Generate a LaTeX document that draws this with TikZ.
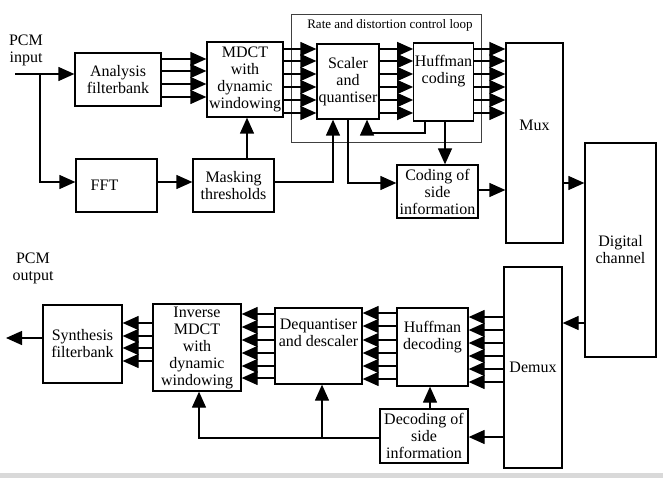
\documentclass[tikz,border=0pt]{standalone}
\usepackage{fontspec}
\setmainfont{Liberation Serif}
\usetikzlibrary{arrows.meta}

\tikzset{
    blk/.style 2 args={draw, line width=1.3pt, inner sep=1pt, align=center,
        minimum width=#1, minimum height=#2},
    arr/.style={line width=1.3pt, -{Triangle[length=16pt,width=14pt]}},
    ln/.style={line width=1.3pt},
}

\begin{document}
\begin{tikzpicture}[x=1pt,y=-1pt,font=\fontsize{16}{17}\selectfont]
    \useasboundingbox (0,0) rectangle (663,478);
    \fill[black!15] (0,473) rectangle (663,478);

    % encoder
    \node[align=center, inner sep=0pt] at (26,50) (pcmin) {PCM\\input};
    \node[blk={86pt}{53pt}] at (118,79.5) (ana) {Analysis\\filterbank};
    \node[blk={81pt}{53pt}] at (116.5,185.5) (fft) {FFT\hspace*{24pt}};
    \node[blk={81pt}{53pt}] at (233.5,185.5) (mask) {Masking\\thresholds};
    \node[blk={76pt}{75pt}] at (245,79.5) (mdct) {MDCT\\with\\dynamic\\windowing};
    \node[blk={62pt}{75pt}] at (348,81.5) (sq) {Scaler\\and\\quantiser};
    \node[blk={59pt}{78pt}] at (443.5,82) (huff) {Huffman\\coding\\[8pt]};
    \node[blk={81pt}{53pt}] at (437.5,191.5) (csi) {Coding of\\side\\information};
    \node[blk={57pt}{200pt}, label={[yshift=18pt]center:Mux}] at (534.5,143) (mux) {};
    \node[blk={71pt}{214pt}] at (620.5,250) (dig) {Digital\\channel};

    % control loop
    \draw[line width=0.6pt,black!75] (291,14) rectangle (481,142);
    \node at (390,25) (looplbl) {\fontsize{13}{15}\selectfont Rate and distortion control loop};

    \coordinate (inp) at (15,74);
    \coordinate (br) at (40,74);
    \draw[arr] (inp) -- (ana.west |- inp);
    \draw[arr] (br) |- (fft.west |- 0,182);
    \draw[arr] (fft.east |- 0,182) -- (mask.west |- 0,182);
    \draw[arr] (mask.north -| 247,0) -- (mdct.south -| 247,0);
    \draw[arr] (mask.east |- 0,182) -| (sq.south -| 333,0);
    \foreach \y in {59,71,84,97}
        \draw[arr] (ana.east |- 0,\y) -- (mdct.west |- 0,\y);
    \foreach \y in {49,61,74,87,100,113} {
        \draw[arr] (mdct.east |- 0,\y) -- (sq.west |- 0,\y);
        \draw[arr] (sq.east |- 0,\y) -- (huff.west |- 0,\y);
        \draw[arr] (huff.east |- 0,\y) -- (mux.west |- 0,\y);
    }
    \coordinate (fb) at (425,133);
    \draw[arr] (huff.south -| fb) -- (fb) -| (sq.south -| 367,0);
    \draw[arr] (huff.south -| 445,0) -- (csi.north -| 445,0);
    \draw[arr] (sq.south -| 348,0) |- (csi.west |- 0,183);
    \draw[arr] (csi.east |- 0,190) -- (mux.west |- 0,190);
    \draw[arr] (mux.east |- 0,183) -- (dig.west |- 0,183);

    % decoder
    \node[align=center, inner sep=0pt] at (33,268) (pcmout) {PCM\\output};
    \node[blk={58pt}{201pt}] at (533,367.5) (demux) {Demux};
    \node[blk={71pt}{78pt}] at (432.5,347) (hdec) {Huffman\\decoding\\[6pt]};
    \node[blk={87pt}{76pt}] at (318.5,346) (deq) {Dequantiser\\and descaler\\[10pt]};
    \node[blk={88pt}{54pt}] at (424,436) (dsi) {Decoding of\\side\\information};
    \node[blk={88pt}{87pt}] at (197,347.5) (imdct) {Inverse\\MDCT\\with\\dynamic\\windowing};
    \node[blk={79pt}{78pt}] at (82.5,344) (syn) {Synthesis\\filterbank};

    \coordinate (outp) at (6,338);
    \draw[arr] (dig.west |- 0,323) -- (demux.east |- 0,323);
    \foreach \y in {317,330,343,356,369,382}
        \draw[arr] (demux.west |- 0,\y) -- (hdec.east |- 0,\y);
    \foreach \y in {313,326,340,353,366,379}
        \draw[arr] (hdec.west |- 0,\y) -- (deq.east |- 0,\y);
    \foreach \y in {314,327,340,353,366,378}
        \draw[arr] (deq.west |- 0,\y) -- (imdct.east |- 0,\y);
    \foreach \y in {323,336,348,361}
        \draw[arr] (imdct.west |- 0,\y) -- (syn.east |- 0,\y);
    \draw[arr] (syn.west |- outp) -- (outp);
    \draw[arr] (demux.west |- 0,437) -- (dsi.east |- 0,437);
    \draw[arr] (dsi.north -| 430,0) -- (hdec.south -| 430,0);
    \coordinate (sj) at (322,438);
    \draw[arr] (dsi.west |- sj) -| (imdct.south -| 199,0);
    \draw[arr] (sj) -- (deq.south -| sj);
\end{tikzpicture}
\end{document}
